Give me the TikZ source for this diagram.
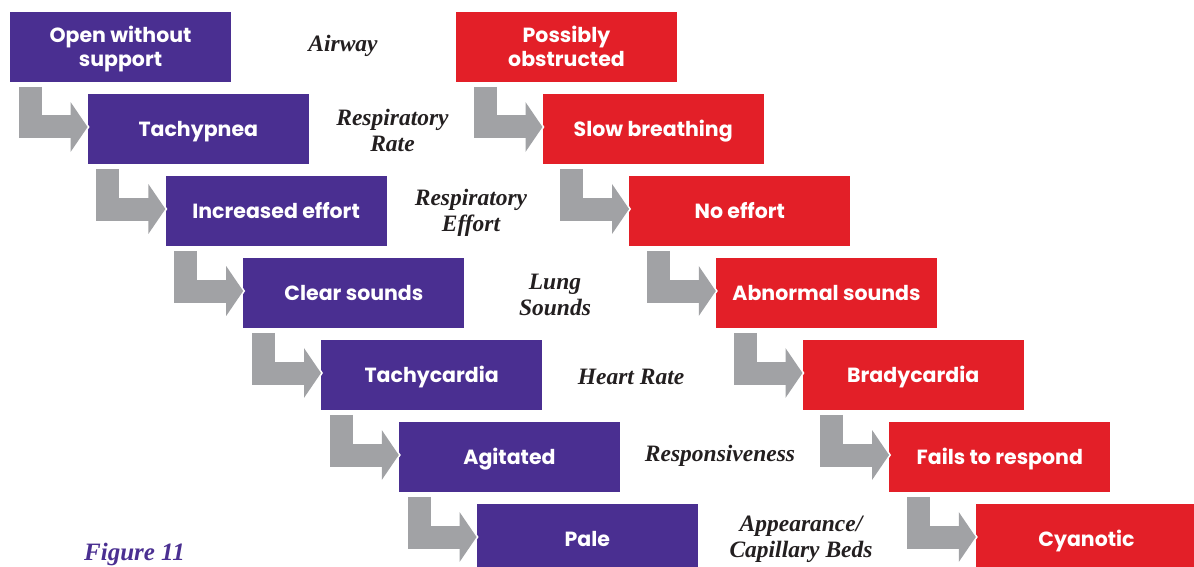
\documentclass[tikz,border=0pt]{standalone}
\usepackage{fontspec}
\setsansfont{Poppins}
\setmainfont{Liberation Serif}
\usetikzlibrary{arrows.meta}

\definecolor{boxpurple}{HTML}{4A2F91}
\definecolor{boxred}{HTML}{E31F28}
\definecolor{arrowgray}{HTML}{A1A2A5}
\definecolor{labelink}{HTML}{231F20}

\begin{document}
\begin{tikzpicture}[x=1pt, y=-1pt,
    stage/.style={rectangle, minimum width=221pt, minimum height=70pt, inner sep=0pt, align=center, text=white,
        text height=19.3pt, text depth=5pt, font=\sffamily\bfseries\fontsize{20.5}{24}\selectfont},
    pair/.style={text height=43.3pt, text depth=5pt},
    good/.style={stage, fill=boxpurple},
    bad/.style={stage, fill=boxred},
    elbow/.style={draw=arrowgray, line width=23pt, line join=miter, -{Triangle[length=17pt, width=49pt]},
        preaction={draw=white, line width=26pt, -{Triangle[length=19pt, width=54pt]}, shorten >=-2pt}},
    sign/.style={align=center, text=labelink, font=\rmfamily\bfseries\itshape\fontsize{23.5}{26}\selectfont}
]
\useasboundingbox (0,0) rectangle (1194,567);

% Left column (stable findings)
\node[good, pair] (g1) at (120.5,47) {Open without\\support};
\node[good] (g2) at (198.3,129) {Tachypnea};
\node[good] (g3) at (276.1,211) {Increased effort};
\node[good] (g4) at (353.9,293) {Clear sounds};
\node[good] (g5) at (431.7,375) {Tachycardia};
\node[good] (g6) at (509.5,457) {Agitated};
\node[good] (g7) at (587.3,539) {Pale};

% Right column (failing findings)
\node[bad, pair] (r1) at (566.5,47) {Possibly\\obstructed};
\node[bad] (r2) at (653.2,129) {Slow breathing};
\node[bad] (r3) at (739.8,211) {No effort};
\node[bad] (r4) at (826.5,293) {Abnormal sounds};
\node[bad] (r5) at (913.2,375) {Bradycardia};
\node[bad] (r6) at (999.8,457) {Fails to respond};
\node[bad] (r7) at (1086.5,539) {Cyanotic};

% Assessment labels
\node[sign] (airway) at (343,46) {Airway};
\node[sign] (rate) at (392.5,130) {Respiratory\\Rate};
\node[sign] (effort) at (471,213) {Respiratory\\Effort};
\node[sign] (lung) at (555,295) {Lung\\Sounds};
\node[sign] (heart) at (631,377) {Heart Rate};
\node[sign] (resp) at (720,456) {Responsiveness};
\node[sign] (skin) at (801,539) {Appearance/\\Capillary Beds};

\node[font=\rmfamily\bfseries\itshape\fontsize{25}{28}\selectfont, text=boxpurple] (fig) at (134.5,554) {Figure 11};

% Elbow arrows, left column
\draw[elbow] ([xshift=-57.5pt, yshift=7pt]g2.north west) |- ([yshift=2pt]g2.west);
\draw[elbow] ([xshift=-57.5pt, yshift=7pt]g3.north west) |- ([yshift=2pt]g3.west);
\draw[elbow] ([xshift=-57.5pt, yshift=7pt]g4.north west) |- ([yshift=2pt]g4.west);
\draw[elbow] ([xshift=-57.5pt, yshift=7pt]g5.north west) |- ([yshift=2pt]g5.west);
\draw[elbow] ([xshift=-57.5pt, yshift=7pt]g6.north west) |- ([yshift=2pt]g6.west);
\draw[elbow] ([xshift=-57.5pt, yshift=7pt]g7.north west) |- ([yshift=2pt]g7.west);

% Elbow arrows, right column
\draw[elbow] ([xshift=-57.5pt, yshift=7pt]r2.north west) |- ([yshift=2pt]r2.west);
\draw[elbow] ([xshift=-57.5pt, yshift=7pt]r3.north west) |- ([yshift=2pt]r3.west);
\draw[elbow] ([xshift=-57.5pt, yshift=7pt]r4.north west) |- ([yshift=2pt]r4.west);
\draw[elbow] ([xshift=-57.5pt, yshift=7pt]r5.north west) |- ([yshift=2pt]r5.west);
\draw[elbow] ([xshift=-57.5pt, yshift=7pt]r6.north west) |- ([yshift=2pt]r6.west);
\draw[elbow] ([xshift=-57.5pt, yshift=7pt]r7.north west) |- ([yshift=2pt]r7.west);

\end{tikzpicture}
\end{document}
